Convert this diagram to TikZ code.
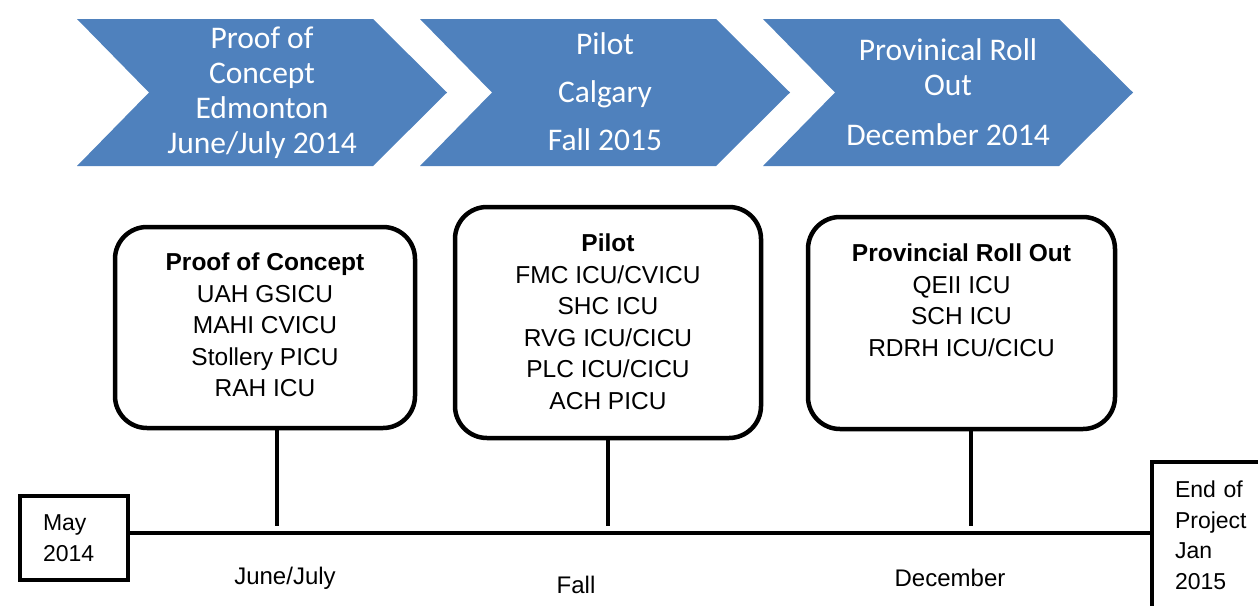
\documentclass[tikz,border=0pt]{standalone}
\usepackage{fontspec}
\setmainfont{Liberation Sans}
\newfontfamily\chevfont{Carlito}
\usetikzlibrary{positioning}
\definecolor{chevblue}{RGB}{79,129,189}

\begin{document}
\begin{tikzpicture}
[x=1pt,y=-1pt,
chevtext/.style={text=white,align=center,inner sep=0pt,font=\chevfont\fontsize{31.5}{35}\selectfont},
stage/.style={draw=black,line width=4.5pt,rounded corners=32pt},
stagetext/.style={align=center,inner sep=0pt,font=\fontsize{24.5}{31.5}\selectfont},
datebox/.style={draw=black,line width=4.5pt,align=left,inner xsep=23pt,font=\fontsize{23}{30.5}\selectfont},
timeline/.style={line width=4pt},
stem/.style={line width=4pt,shorten >=7pt},
month/.style={font=\fontsize{24}{26}\selectfont}]
\useasboundingbox (0,0) rectangle (1258,605);

% chevrons
\foreach \x in {77,420,763}
  \fill[chevblue] (\x,19) -- ++(296,0) -- ++(74,73.5) -- ++(-74,73.5) -- ++(-296,0) -- ++(72,-73.5) -- cycle;
\node[chevtext] (chev1) at (262,93) {Proof of\\Concept\\Edmonton\\June/July 2014};
\node[chevtext] (chev2) at (605,92) {Pilot\\[13pt]Calgary\\[13pt]Fall 2015};
\node[chevtext] (chev3) at (948,92) {Provinical Roll\\Out\\[15pt]December 2014};

% stage boxes
\node[stage,minimum width=300pt,minimum height=201pt] (poc) at (265,327.5) {};
\node[stagetext,below=28pt of poc.north] (poclist) {\textbf{Proof of Concept}\\UAH GSICU\\MAHI CVICU\\Stollery PICU\\RAH ICU};
\node[stage,minimum width=306pt,minimum height=231pt] (pilot) at (608,322.5) {};
\node[stagetext,below=29pt of pilot.north] (pilotlist) {\textbf{Pilot}\\FMC ICU/CVICU\\SHC ICU\\RVG ICU/CICU\\PLC ICU/CICU\\ACH PICU};
\node[stage,minimum width=307pt,minimum height=212pt] (prov) at (961.5,323) {};
\node[stagetext,below=29pt of prov.north] (provlist) {\textbf{Provincial Roll Out}\\QEII ICU\\SCH ICU\\RDRH ICU/CICU};

% timeline
\node[datebox,text width=62pt,minimum height=84pt] (may) at (74,538) {May\\2014};
\node[datebox,text width=80pt,minimum height=147pt] (projend) at (1215,535.5) {End of\\Project\\Jan\\2015};
\coordinate (tl) at (0,533);
\draw[timeline] (may.east |- tl) -- (projend.west |- tl);

\coordinate (s1) at ([xshift=12pt]poc.south);
\coordinate (s2) at (pilot.south);
\coordinate (s3) at ([xshift=9pt]prov.south);
\draw[stem] (s1) -- (s1 |- tl);
\draw[stem] (s2) -- (s2 |- tl);
\draw[stem] (s3) -- (s3 |- tl);

\node[month] (junejuly) at (285,578) {June/July};
\node[month] (fall) at (576,585) {Fall};
\node[month] (december) at (950,578) {December};
\end{tikzpicture}
\end{document}
